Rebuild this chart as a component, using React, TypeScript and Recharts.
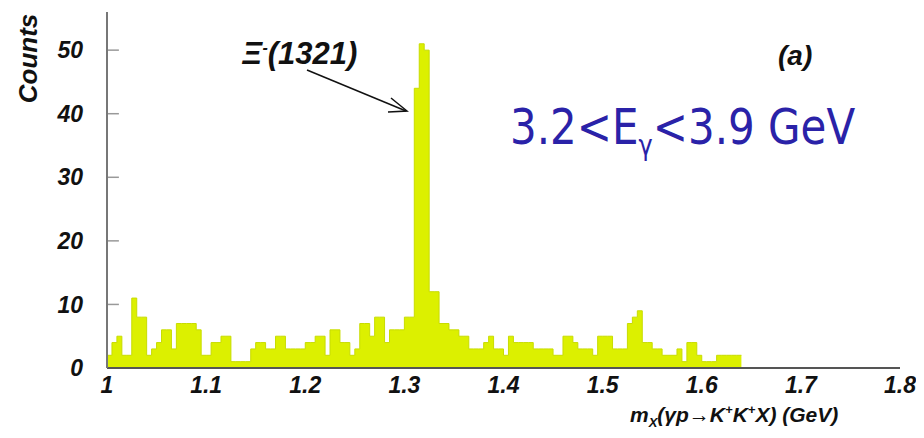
import React from "react";
import { ComposedChart, Area, XAxis, YAxis, ReferenceLine } from "recharts";

// Histogram: 5 MeV bins starting at 1.000 GeV
const binStart = 1.0;
const binWidth = 0.005;
const counts = [
  2, 4, 5, 2, 2, 11, 8, 8, 2, 3,
  4, 6, 6, 3, 7, 7, 7, 7, 6, 2,
  2, 4, 4, 5, 5, 1, 1, 1, 1, 3,
  4, 4, 3, 3, 5, 5, 3, 3, 3, 3,
  4, 4, 5, 5, 2, 6, 6, 4, 4, 2,
  3, 7, 7, 5, 8, 8, 4, 6, 6, 6,
  8, 8, 44, 51, 50, 12, 12, 7, 7, 6,
  6, 5, 5, 3, 3, 3, 4, 5, 3, 3,
  2, 5, 4, 4, 4, 4, 3, 3, 3, 3,
  2, 2, 5, 5, 4, 3, 3, 3, 2, 5,
  5, 5, 3, 3, 3, 7, 8, 9, 4, 4,
  3, 3, 2, 2, 2, 3, 1, 4, 4, 2,
  1, 1, 1, 2, 2, 2, 2, 2,
];

const xTicks = [1, 1.1, 1.2, 1.3, 1.4, 1.5, 1.6, 1.7, 1.8];
const xTickLabels = ["1", "1.1", "1.2", "1.3", "1.4", "1.5", "1.6", "1.7", "1.8"];
const yTicks = [0, 10, 20, 30, 40, 50];

const data = counts
  .map((c, i) => ({ x: +(binStart + i * binWidth).toFixed(3), y: c }))
  .concat([{ x: +(binStart + counts.length * binWidth).toFixed(3), y: counts[counts.length - 1] }]);

const FONT = "'Liberation Sans', Arial, sans-serif";

export default function App() {
  return (
    <div style={{ position: "relative", width: 916, height: 430, background: "#fff" }}>
      <ComposedChart
        width={916}
        height={430}
        data={data}
        margin={{ top: 4, right: 24, bottom: 40, left: 49 }}
      >
        <XAxis
          dataKey="x"
          type="number"
          domain={[1, 1.8]}
          ticks={xTicks}
          tickFormatter={(v: number) => xTickLabels[xTicks.indexOf(v)] ?? String(v)}
          height={30}
          axisLine={{ stroke: "#555", strokeWidth: 2 }}
          tickLine={false}
          tickMargin={3}
          tick={{ fill: "#111", fontFamily: FONT, fontSize: 23, fontWeight: 700, fontStyle: "italic" }}
          allowDataOverflow
        />
        <XAxis
          xAxisId="top"
          orientation="top"
          dataKey="x"
          type="number"
          domain={[1, 1.8]}
          height={0}
          tick={false}
          tickLine={false}
          axisLine={{ stroke: "#999", strokeWidth: 1.5 }}
        />
        <YAxis
          type="number"
          domain={[0, 56]}
          ticks={yTicks}
          width={50}
          axisLine={{ stroke: "#777", strokeWidth: 2 }}
          tickLine={false}
          tickMargin={10}
          tick={{ fill: "#111", fontFamily: FONT, fontSize: 23, fontWeight: 700, fontStyle: "italic", dx: -8 }}
          allowDataOverflow
        />
        <YAxis
          yAxisId="right"
          orientation="right"
          type="number"
          domain={[0, 56]}
          width={0}
          tick={false}
          tickLine={false}
          axisLine={{ stroke: "#999", strokeWidth: 1.5 }}
        />
        {yTicks.slice(1).map((t) => (
          <ReferenceLine
            key={"yt" + t}
            segment={[{ x: 1, y: t }, { x: 1.012, y: t }]}
            stroke="#999"
            strokeWidth={1.5}
            ifOverflow="visible"
          />
        ))}
        <Area
          type="stepAfter"
          dataKey="y"
          stroke="#c8dc00"
          strokeWidth={1}
          fill="#dcf000"
          fillOpacity={1}
          isAnimationActive={false}
          dot={false}
          activeDot={false}
        />
      </ComposedChart>

      {/* Y axis title */}
      <div
        style={{
          position: "absolute",
          left: 8,
          top: 0,
          width: 26,
          height: 100,
          display: "flex",
          alignItems: "center",
          justifyContent: "center",
        }}
      >
        <span
          style={{
            transform: "rotate(-90deg)",
            fontFamily: FONT,
            fontSize: 26,
            fontWeight: 700,
            fontStyle: "italic",
            color: "#111",
            whiteSpace: "nowrap",
          }}
        >
          Counts
        </span>
      </div>

      {/* X axis title */}
      <div
        style={{
          position: "absolute",
          left: 622,
          top: 394,
          fontFamily: FONT,
          fontSize: 21,
          fontWeight: 700,
          fontStyle: "italic",
          color: "#111",
          whiteSpace: "nowrap",
        }}
      >
        m<sub style={{ fontSize: 13 }}>X</sub>(γp→K<sup style={{ fontSize: 13 }}>+</sup>K<sup style={{ fontSize: 13 }}>+</sup>X) (GeV)
      </div>

      {/* Peak annotation */}
      <div
        style={{
          position: "absolute",
          left: 234,
          top: 28,
          fontFamily: FONT,
          fontSize: 31,
          fontWeight: 700,
          fontStyle: "italic",
          color: "#111",
          whiteSpace: "nowrap",
        }}
      >
        Ξ<sup style={{ fontSize: 16 }}>-</sup>(1321)
      </div>
      <svg style={{ position: "absolute", left: 0, top: 0 }} width={916} height={430}>
        <line x1={299} y1={62} x2={398} y2={103} stroke="#111" strokeWidth={1.5} />
        <polyline points="383,90 399,103 380,104" fill="none" stroke="#111" strokeWidth={1.5} />
      </svg>

      {/* (a) label */}
      <div
        style={{
          position: "absolute",
          left: 770,
          top: 32,
          fontFamily: FONT,
          fontSize: 28,
          fontWeight: 700,
          fontStyle: "italic",
          color: "#111",
        }}
      >
        (a)
      </div>

      {/* Energy range */}
      <div
        style={{
          position: "absolute",
          left: 502,
          top: 89,
          fontFamily: "'DejaVu Sans', sans-serif",
          fontSize: 42,
          color: "#2a22a8",
          whiteSpace: "nowrap",
          transform: "scaleY(1.2)",
          transformOrigin: "left top",
        }}
      >
        3.2&lt;E<sub style={{ fontSize: 24 }}>γ</sub>&lt;3.9 GeV
      </div>
    </div>
  );
}
